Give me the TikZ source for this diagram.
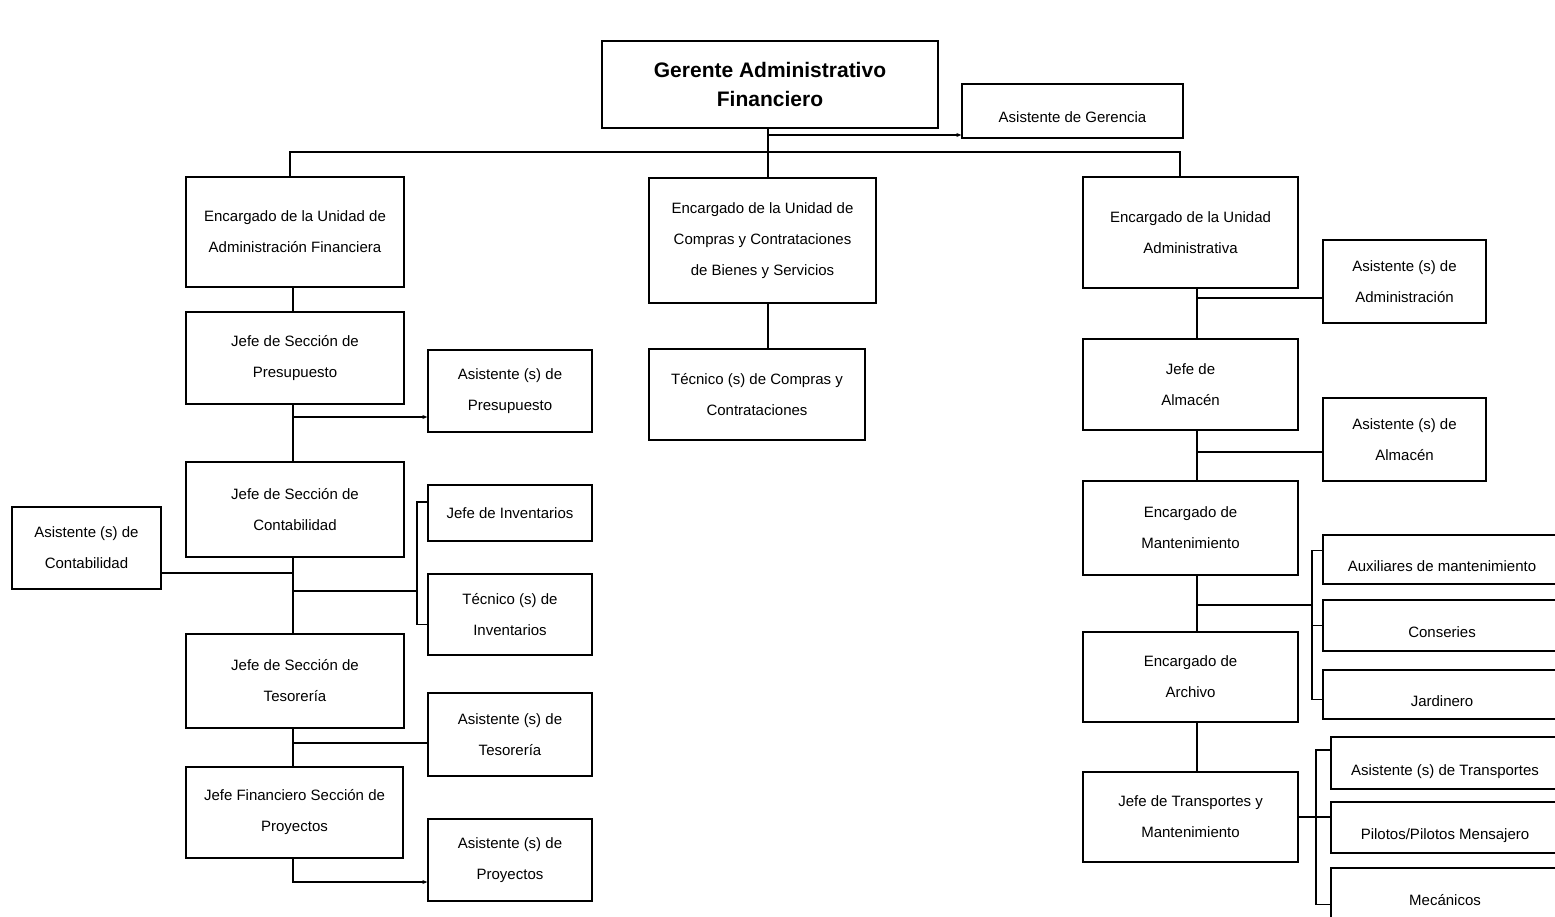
\documentclass[tikz,border=0pt]{standalone}
\usepackage{fontspec}
\setmainfont{Liberation Sans}
\usetikzlibrary{arrows.meta}
\begin{document}
\begin{tikzpicture}[x=1pt,y=1pt,
  cargo/.style={draw,line width=1.3pt,align=center,inner sep=0pt,font=\fontsize{15}{31}\selectfont},
  fila/.style={cargo,text height=24pt,text depth=0pt},
  enlace/.style={line width=1.1pt},
  flecha/.style={enlace,-{Stealth[length=5pt,width=4pt]}}]
\useasboundingbox (0,0) rectangle (1555,-917);
% gerencia
\node[cargo,minimum width=336,minimum height=87,font=\bfseries\fontsize{21}{29}\selectfont] (gerente) at (770,-84.5) {Gerente Administrativo\\Financiero};
\node[fila,minimum width=221,minimum height=54] (asisGer) at (1072.5,-111) {Asistente de Gerencia};
% columna izquierda
\node[cargo,minimum width=218,minimum height=110] (unidadFin) at (295,-232) {Encargado de la Unidad de\\Administración Financiera};
\node[cargo,minimum width=218,minimum height=92] (presup) at (295,-358) {Jefe de Sección de\\Presupuesto};
\node[cargo,minimum width=164,minimum height=82] (asisPresup) at (510,-391) {Asistente (s) de\\Presupuesto};
\node[cargo,minimum width=218,minimum height=95] (contab) at (295,-509.5) {Jefe de Sección de\\Contabilidad};
\node[cargo,minimum width=149,minimum height=82] (asisContab) at (86.5,-548) {Asistente (s) de\\Contabilidad};
\node[cargo,minimum width=164,minimum height=56] (jefeInv) at (510,-513) {Jefe de Inventarios};
\node[cargo,minimum width=164,minimum height=81] (tecInv) at (510,-614.5) {Técnico (s) de\\Inventarios};
\node[cargo,minimum width=218,minimum height=94] (tesor) at (295,-681) {Jefe de Sección de\\Tesorería};
\node[cargo,minimum width=164,minimum height=83] (asisTesor) at (510,-734.5) {Asistente (s) de\\Tesorería};
\node[cargo,minimum width=217,minimum height=91] (proyec) at (294.5,-812.5) {Jefe Financiero Sección de\\Proyectos};
\node[cargo,minimum width=164,minimum height=82] (asisProyec) at (510,-860) {Asistente (s) de\\Proyectos};
% columna central
\node[cargo,minimum width=227,minimum height=125] (compras) at (762.5,-240.5) {Encargado de la Unidad de\\Compras y Contrataciones\\de Bienes y Servicios};
\node[cargo,minimum width=216,minimum height=91] (tecCompras) at (757,-394.5) {Técnico (s) de Compras y\\Contrataciones};
% columna derecha
\node[cargo,minimum width=215,minimum height=111] (unidadAdm) at (1190.5,-232.5) {Encargado de la Unidad\\Administrativa};
\node[cargo,minimum width=163,minimum height=83] (asisAdm) at (1404.5,-281.5) {Asistente (s) de\\Administración};
\node[cargo,minimum width=215,minimum height=91] (almacen) at (1190.5,-384.5) {Jefe de\\Almacén};
\node[cargo,minimum width=163,minimum height=83] (asisAlm) at (1404.5,-439.5) {Asistente (s) de\\Almacén};
\node[cargo,minimum width=215,minimum height=94] (manten) at (1190.5,-528) {Encargado de\\Mantenimiento};
\node[fila,minimum width=238,minimum height=49] (auxMant) at (1442,-559.5) {Auxiliares de mantenimiento};
\node[fila,minimum width=238,minimum height=51] (conserjes) at (1442,-625.5) {Conseries};
\node[fila,minimum width=238,minimum height=49] (jardinero) at (1442,-694.5) {Jardinero};
\node[cargo,minimum width=215,minimum height=90] (archivo) at (1190.5,-677) {Encargado de\\Archivo};
\node[cargo,minimum width=215,minimum height=90] (transp) at (1190.5,-817) {Jefe de Transportes y\\Mantenimiento};
\node[fila,minimum width=228,minimum height=52] (asisTransp) at (1445,-763) {Asistente (s) de Transportes};
\node[fila,minimum width=228,minimum height=51] (pilotos) at (1445,-827.5) {Pilotos/Pilotos Mensajero};
\node[fila,minimum width=228,minimum height=51] (mecanicos) at (1445,-893.5) {Mecánicos};
% ejes de los enlaces
\coordinate (barra) at (768,-152);
\coordinate (ejeI) at (293,0);
\coordinate (ejeD) at (1197,0);
\coordinate (busI) at (290,0);
\coordinate (busD) at (1180,0);
% enlaces superiores
\coordinate (gerA) at ([yshift=-24pt]asisGer.west);
\draw[enlace] (gerente.south -| barra) -- (compras.north -| barra);
\draw[flecha] (gerA -| barra) -- (gerA);
\draw[enlace] (unidadFin.north -| busI) |- (barra) -| (unidadAdm.north -| busD);
% enlaces izquierda
\coordinate (pA) at ([yshift=-26pt]asisPresup.west);
\coordinate (cA) at ([yshift=-25pt]asisContab.east);
\coordinate (llave) at (417,-591);
\coordinate (tA) at ([yshift=-8.5pt]asisTesor.west);
\draw[enlace] (unidadFin.south -| ejeI) -- (presup.north -| ejeI);
\draw[enlace] (presup.south -| ejeI) -- (contab.north -| ejeI);
\draw[flecha] (pA -| ejeI) -- (pA);
\draw[enlace] (contab.south -| ejeI) -- (tesor.north -| ejeI);
\draw[enlace] (cA) -- (cA -| ejeI);
\draw[enlace] (llave -| ejeI) -- (llave);
\draw[enlace] ([yshift=11pt]jefeInv.west) -| (llave) |- ([yshift=-10pt]tecInv.west);
\draw[enlace] (tA -| ejeI) -- (tA);
\draw[enlace] (tesor.south -| ejeI) -- (proyec.north -| ejeI);
\draw[flecha] (proyec.south -| ejeI) |- ([yshift=-22pt]asisProyec.west);
% enlace central
\draw[enlace] (compras.south -| barra) -- (tecCompras.north -| barra);
% enlaces derecha
\coordinate (aA) at ([yshift=-16.5pt]asisAdm.west);
\coordinate (alA) at ([yshift=-12.5pt]asisAlm.west);
\coordinate (llaveM) at (1312,-605);
\coordinate (llaveT) at (1316,-817);
\draw[enlace] (unidadAdm.south -| ejeD) -- (almacen.north -| ejeD);
\draw[enlace] (aA) -- (aA -| ejeD);
\draw[enlace] (almacen.south -| ejeD) -- (manten.north -| ejeD);
\draw[enlace] (alA) -- (alA -| ejeD);
\draw[enlace] (manten.south -| ejeD) -- (archivo.north -| ejeD);
\draw[enlace] (llaveM -| ejeD) -- (llaveM);
\draw[enlace] ([yshift=9pt]auxMant.west) -| (llaveM) |- ([yshift=-5pt]jardinero.west);
\draw[enlace] (conserjes.west) -- (conserjes.west -| llaveM);
\draw[enlace] (archivo.south -| ejeD) -- (transp.north -| ejeD);
\draw[enlace] (transp.east) -- (transp.east -| pilotos.west);
\draw[enlace] ([yshift=13pt]asisTransp.west) -| (llaveT) |- ([yshift=-11pt]mecanicos.west);
\end{tikzpicture}
\end{document}
